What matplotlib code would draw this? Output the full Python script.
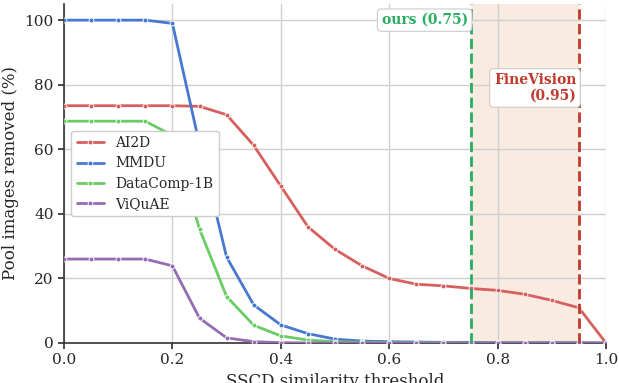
import numpy as np
import matplotlib.pyplot as plt
import seaborn as sns

sns.set_theme(style="whitegrid", palette="muted")
plt.rcParams['font.family'] = ['DejaVu Serif']

thresholds = np.round(np.arange(0, 1.0001, 0.05), 2)

ai2d = [73.5, 73.5, 73.5, 73.5, 73.5, 73.3, 70.7, 61.2, 48.6, 36.0, 29.0,
        23.9, 20.0, 18.2, 17.7, 16.9, 16.3, 15.1, 13.2, 10.9, 0.0]
mmdu = [100, 100, 100, 100, 99.0, 61.5, 26.6, 11.8, 5.6, 2.9, 1.2,
        0.6, 0.4, 0.3, 0.2, 0.2, 0.1, 0.1, 0.1, 0.1, 0.0]
datacomp = [68.7, 68.7, 68.7, 68.7, 64.3, 35.3, 14.4, 5.5, 2.2, 0.9, 0.4,
            0.2, 0.1, 0.1, 0.1, 0.0, 0.0, 0.0, 0.0, 0.0, 0.0]
viquae = [26.0, 26.0, 26.0, 26.0, 23.9, 7.7, 1.6, 0.4, 0.1, 0.0, 0.0,
          0.0, 0.0, 0.0, 0.0, 0.0, 0.0, 0.0, 0.0, 0.0, 0.0]

series = [("AI2D", ai2d, "#d65f5f"),
          ("MMDU", mmdu, "#4878d0"),
          ("DataComp-1B", datacomp, "#6acc64"),
          ("ViQuAE", viquae, "#956cb4")]

ours_t = 0.75
fv_t = 0.95

fig = plt.figure(figsize=(6.19, 3.83), dpi=100)
ax = fig.add_axes([64/619, 1-343/383, 542/619, 339/383])

ax.axvspan(ours_t, fv_t, color="#f0c8a8", alpha=0.35, lw=0, zorder=0)

for name, vals, col in series:
    ax.plot(thresholds, vals, color=col, lw=2, marker='o', markersize=3.5,
            markeredgecolor='white', markeredgewidth=0.6, label=name, zorder=3)

ax.axvline(ours_t, color="#27ae60", ls='--', lw=2, zorder=4)
ax.axvline(fv_t, color="#c0392b", ls='--', lw=2, zorder=4)

box = dict(boxstyle="round,pad=0.3", fc="white", ec="#cccccc", lw=0.8)
ax.text(ours_t - 0.005, 100, "ours (0.75)", color="#27ae60", fontweight='bold',
        fontsize=10, ha='right', va='center', bbox=box, zorder=5)
ax.text(fv_t - 0.005, 79, "FineVision\n(0.95)", color="#c0392b", fontweight='bold',
        fontsize=10, ha='right', va='center', multialignment='right', bbox=box, zorder=5)

ax.set_xlim(0, 1)
ax.set_ylim(0, 105)
ax.set_xticks([0, 0.2, 0.4, 0.6, 0.8, 1.0])
ax.set_yticks([0, 20, 40, 60, 80, 100])
ax.tick_params(labelsize=11, length=4, color='#333333', left=True, bottom=True)
ax.set_xlabel("SSCD similarity threshold", fontsize=12)
ax.set_ylabel("Pool images removed (%)", fontsize=12)
ax.grid(color='#d0d0d0', lw=1)

for s in ['top', 'right']:
    ax.spines[s].set_visible(False)
for s in ['left', 'bottom']:
    ax.spines[s].set_color('#333333')
    ax.spines[s].set_linewidth(1.2)

ax.legend(loc='center left', bbox_to_anchor=(0.0, 0.5), fontsize=10,
          frameon=True, facecolor='white', edgecolor='#cccccc', framealpha=1,
          labelspacing=0.45)

fig.savefig("out.png", dpi=100)
